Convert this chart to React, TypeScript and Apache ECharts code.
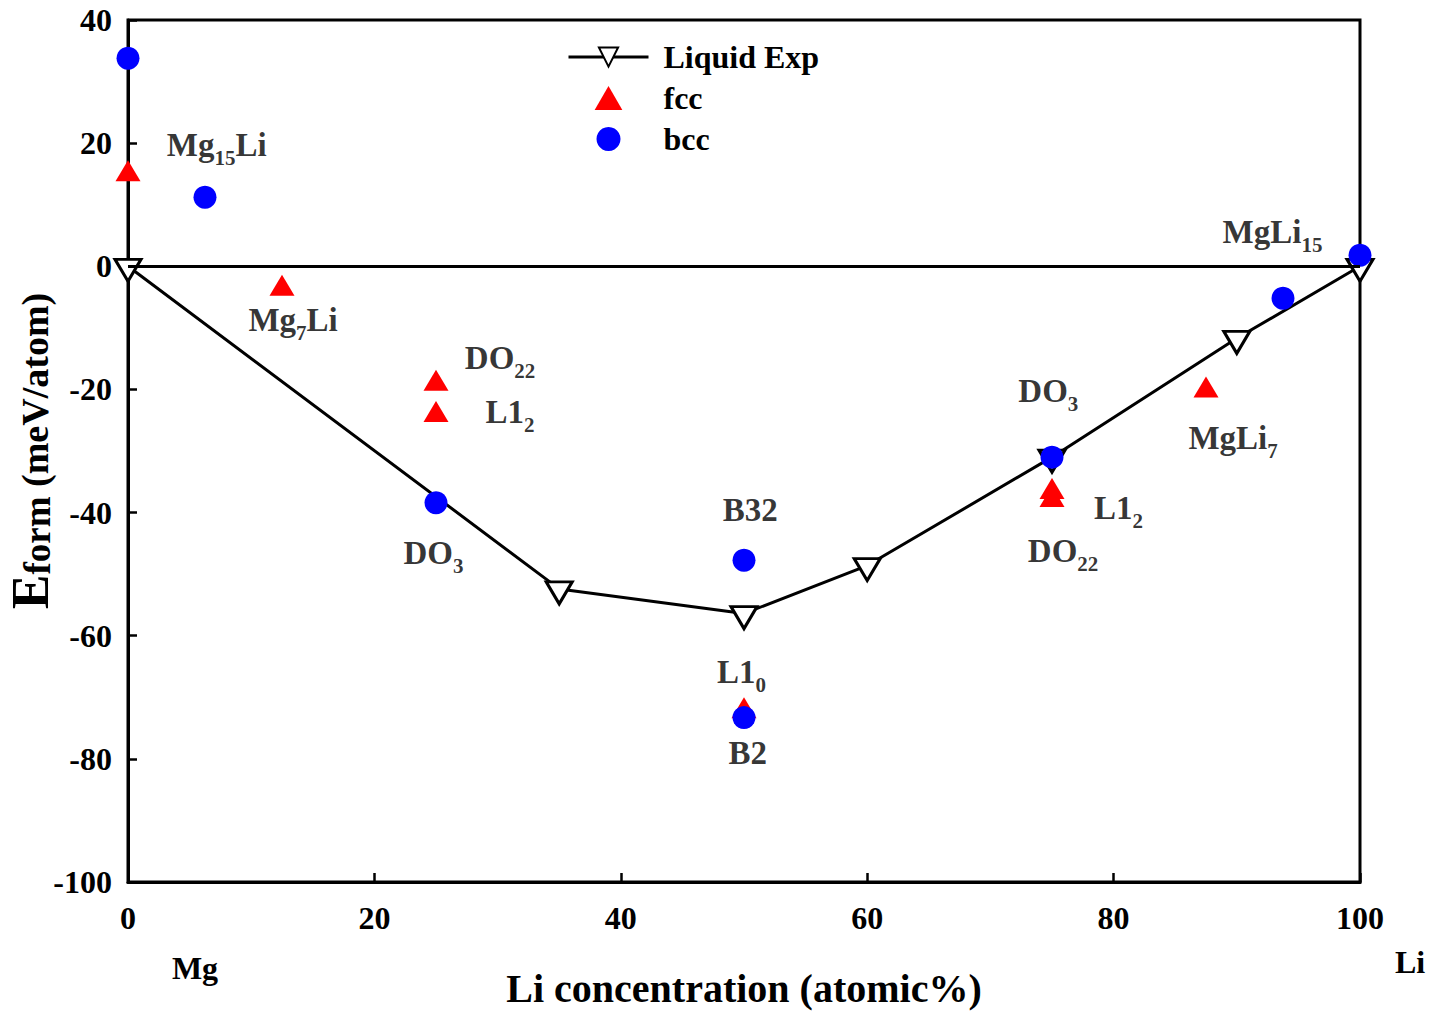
import React, { useEffect, useRef } from "react";
import * as echarts from "echarts";

const FONT = "'Liberation Serif', 'Times New Roman', serif";

// Liquid (experimental) formation energies
const liquidX = [0, 35, 50, 60, 75, 90, 100];
const liquidY = [0, -52.4, -56.4, -48.6, -31.0, -11.7, 0];

// fcc structures
const fccX = [0, 12.5, 25, 25, 50, 75, 75, 87.5];
const fccY = [15.5, -3.1, -18.5, -23.6, -71.7, -36.1, -37.4, -19.6];

// bcc structures
const bccX = [0, 6.25, 25, 50, 50, 75, 93.75, 100];
const bccY = [33.8, 11.2, -38.4, -47.75, -73.3, -31.0, -5.2, 1.8];

// Structure annotations
const labelX = [7.2, 13.4, 30.2, 31.0, 24.8, 50.5, 49.8, 50.3, 74.7, 80.4, 75.9, 89.7, 92.9];
const labelY = [19.7, -8.8, -14.9, -23.7, -46.5, -39.6, -65.9, -79.1, -20.3, -39.3, -46.3, -27.9, 5.5];
const labelText = [
  "{m|Mg}{s|15}{m|Li}",
  "{m|Mg}{s|7}{m|Li}",
  "{m|DO}{s|22}",
  "{m|L1}{s|2}",
  "{m|DO}{s|3}",
  "{m|B32}",
  "{m|L1}{s|0}",
  "{m|B2}",
  "{m|DO}{s|3}",
  "{m|L1}{s|2}",
  "{m|DO}{s|22}",
  "{m|MgLi}{s|7}",
  "{m|MgLi}{s|15}",
];

// Axis ticks
const xMin = 0, xMax = 100, xStep = 20;
const yMin = -100, yMax = 40, yStep = 20;

const seriesNames = ["Liquid Exp", "fcc", "bcc"];

export default function App() {
  const ref = useRef<HTMLDivElement>(null);

  useEffect(() => {
    const chart = echarts.init(ref.current!, null, { renderer: "svg" });
    const base = { fontFamily: FONT, fontWeight: "bold" as const, color: "#000" };
    const rich = {
      m: { ...base, fontSize: 33, lineHeight: 33, verticalAlign: "top" },
      s: { ...base, fontSize: 21, lineHeight: 21, verticalAlign: "top", padding: [19, 0, 0, 0] },
    };
    const downTri = "path://M0,0 L20,0 L10,17.32 Z";
    const upTri = "path://M10,0 L20,17.32 L0,17.32 Z";

    chart.setOption({
      animation: false,
      backgroundColor: "#fff",
      grid: {
        left: 128,
        right: 69,
        top: 20,
        bottom: 131,
        containLabel: false,
        outerBoundsMode: "none",
        show: true,
        borderColor: "#000",
        borderWidth: 3,
        backgroundColor: "transparent",
      },
      legend: {
        orient: "vertical",
        left: 562,
        top: 36,
        itemWidth: 80,
        itemHeight: 24,
        itemGap: 9,
        lineStyle: { width: 3, color: "#000" },
        data: [
          { name: seriesNames[0] },
          { name: seriesNames[1], icon: upTri },
          { name: seriesNames[2], icon: "circle" },
        ],
        textStyle: { ...base, fontSize: 32, padding: [0, 0, 0, 10] },
      },
      xAxis: {
        type: "value",
        min: xMin,
        max: xMax,
        interval: xStep,
        name: "Li concentration (atomic%)",
        nameLocation: "middle",
        nameGap: 86,
        nameMoveOverlap: false,
        nameTextStyle: { ...base, fontSize: 40, lineHeight: 40 },
        axisLine: { onZero: false, lineStyle: { color: "#000", width: 3 } },
        axisTick: { inside: true, length: 9, lineStyle: { color: "#000", width: 2.5 } },
        axisLabel: { ...base, fontSize: 32, margin: 20 },
        splitLine: { show: false },
      },
      yAxis: {
        type: "value",
        min: yMin,
        max: yMax,
        interval: yStep,
        name: "{E|E}{f|form}{n| (meV/atom)}",
        nameLocation: "middle",
        nameRotate: 90,
        nameGap: 72,
        nameMoveOverlap: false,
        nameTextStyle: {
          ...base,
          rich: {
            E: { ...base, fontSize: 52, lineHeight: 52, verticalAlign: "top" },
            f: { ...base, fontSize: 37, lineHeight: 37, verticalAlign: "top", padding: [15, 0, 0, 0] },
            n: { ...base, fontSize: 38, lineHeight: 38, verticalAlign: "top", padding: [12, 0, 0, 0] },
          },
        },
        axisLine: { onZero: false, lineStyle: { color: "#000", width: 3 } },
        axisTick: { inside: true, length: 9, lineStyle: { color: "#000", width: 2.5 } },
        axisLabel: { ...base, fontSize: 32, margin: 16 },
        splitLine: { show: false },
      },
      series: [
        {
          name: seriesNames[0],
          type: "line",
          data: liquidX.map((x, i) => [x, liquidY[i]]),
          symbol: downTri,
          symbolSize: [26, 22],
          symbolOffset: [0, 4],
          showAllSymbol: true,
          lineStyle: { color: "#000", width: 3 },
          itemStyle: { color: "#fff", borderColor: "#000", borderWidth: 3 },
          z: 2,
          markLine: {
            silent: true,
            symbol: ["none", "none"],
            label: { show: false },
            lineStyle: { color: "#000", width: 3, type: "solid" },
            data: [{ yAxis: 0 }],
          },
        },
        {
          name: seriesNames[1],
          type: "scatter",
          data: fccX.map((x, i) => [x, fccY[i]]),
          symbol: "triangle",
          symbolSize: [25, 21],
          itemStyle: { color: "#ff0000", opacity: 1 },
          z: 3,
        },
        {
          name: seriesNames[2],
          type: "scatter",
          data: bccX.map((x, i) => [x, bccY[i]]),
          symbol: "circle",
          symbolSize: 23,
          itemStyle: { color: "#0000ff", opacity: 1 },
          z: 4,
        },
        {
          name: "labels",
          type: "scatter",
          data: labelX.map((x, i) => ({ value: [x, labelY[i]], label: { formatter: labelText[i] } })),
          symbolSize: 0,
          silent: true,
          label: { show: true, position: "inside", rich },
          z: 5,
        },
      ],
      graphic: [
        {
          type: "text",
          x: 195,
          y: 968,
          style: { text: "Mg", fontFamily: FONT, fontWeight: "bold", fontSize: 32, fill: "#000", align: "center", verticalAlign: "middle" },
        },
        {
          type: "text",
          x: 1410,
          y: 962,
          style: { text: "Li", fontFamily: FONT, fontWeight: "bold", fontSize: 32, fill: "#000", align: "center", verticalAlign: "middle" },
        },
      ],
    });
    return () => chart.dispose();
  }, []);

  return (
    <div
      ref={ref}
      style={{ position: "fixed", left: 0, top: 0, width: 1429, height: 1013, background: "#fff" }}
    />
  );
}
